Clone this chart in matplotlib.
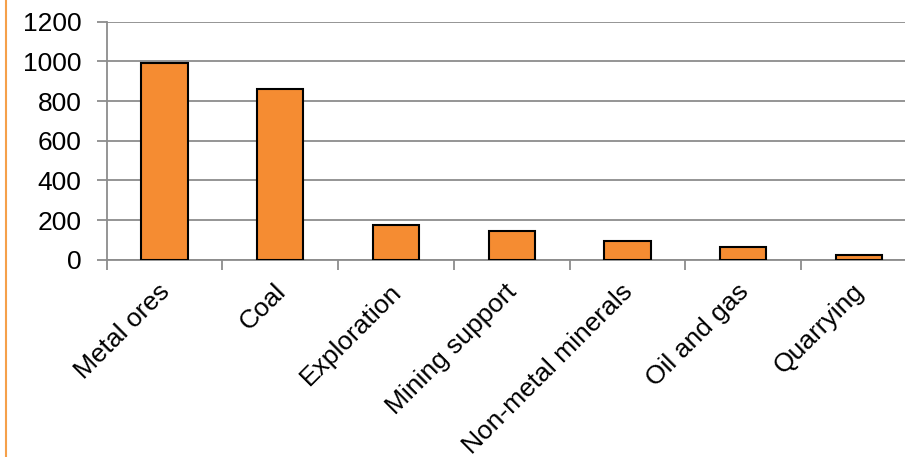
import matplotlib.pyplot as plt
from matplotlib.lines import Line2D
import matplotlib.transforms as mtransforms
import numpy as np

categories = ['Metal ores', 'Coal', 'Exploration', 'Mining support',
              'Non-metal minerals', 'Oil and gas', 'Quarrying']
values = [990, 860, 175, 145, 95, 62, 25]
y_ticks = [0, 200, 400, 600, 800, 1000, 1200]

plt.rcParams['font.family'] = ['Liberation Sans', 'DejaVu Sans']

fig = plt.figure(figsize=(9.05, 4.57), dpi=100)
# axes runs a bit past the right edge, like the cropped original
ax = fig.add_axes([106.7 / 905, 1 - 259.7 / 457, 810 / 905, 238 / 457])

x = np.arange(len(categories))
ax.bar(x, values, width=0.4, color='#F58C32', edgecolor='black', linewidth=1.5, zorder=3)

ax.set_xlim(-0.5, len(categories) - 0.5)
ax.set_ylim(0, 1200)
ax.set_yticks(y_ticks)
ax.set_yticklabels([str(v) for v in y_ticks], fontsize=19)
ax.yaxis.grid(True, color='#8C8C8C', linewidth=1.3, zorder=0)

ax.set_xticks(x)
ax.set_xticklabels(categories, fontsize=19, rotation=45, ha='right',
                   va='top', rotation_mode='anchor')
ax.set_xticks(np.arange(len(categories)) - 0.5, minor=True)
ax.tick_params(axis='x', which='major', length=0, pad=14)
ax.tick_params(axis='x', which='minor', length=7, width=1.3, color='#8C8C8C')
ax.tick_params(axis='y', length=7, width=1.3, color='#8C8C8C', pad=11)

for side in ['top', 'right']:
    ax.spines[side].set_visible(False)
for side in ['left', 'bottom']:
    ax.spines[side].set_color('#8C8C8C')
    ax.spines[side].set_linewidth(1.3)

# orange border line at the far left
fig.add_artist(Line2D([6 / 905, 6 / 905], [0, 1], color='#F5A04A', linewidth=1.5,
                      transform=fig.transFigure))

# nudge the rotated labels a little to the left (after ticks exist)
fig.canvas.draw()
shift = mtransforms.ScaledTranslation(-7 / 100, 0, fig.dpi_scale_trans)
for tick in ax.xaxis.get_major_ticks():
    tick.label1.set_transform(tick.label1.get_transform() + shift)

fig.savefig('out.png', dpi=100)
